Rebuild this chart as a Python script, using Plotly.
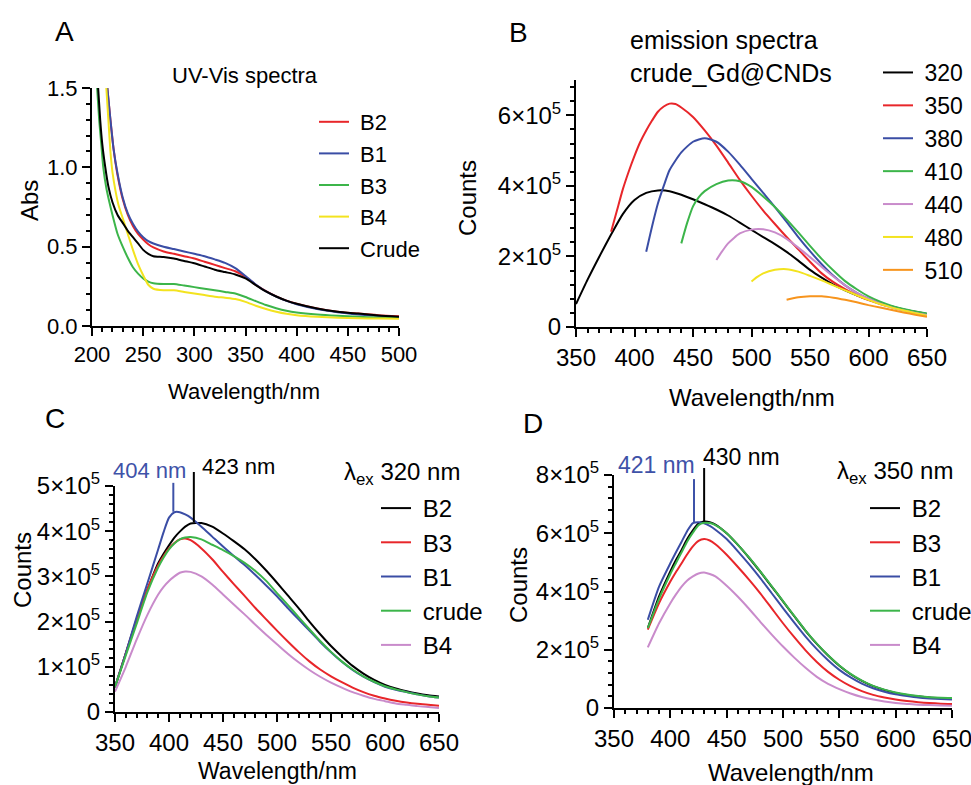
import plotly.graph_objects as go

# ---------------- DATA ----------------
# Panel A: UV-Vis absorbance
a_b2_x = [215, 218, 221, 225, 230, 235, 240, 245, 250, 255, 260, 270, 280, 290, 300, 310, 320, 330, 340, 350, 360, 370, 380, 390, 400, 420, 440, 460, 480, 500]
a_b2_y = [1.5, 1.3, 1.12, 0.95, 0.8, 0.7, 0.63, 0.58, 0.545, 0.515, 0.495, 0.47, 0.455, 0.44, 0.425, 0.405, 0.385, 0.365, 0.345, 0.31, 0.26, 0.22, 0.187, 0.16, 0.14, 0.11, 0.09, 0.078, 0.068, 0.062]
a_b1_x = [215, 218, 221, 225, 230, 235, 240, 245, 250, 255, 260, 270, 280, 290, 300, 310, 320, 330, 340, 350, 360, 370, 380, 390, 400, 420, 440, 460, 480, 500]
a_b1_y = [1.5, 1.3, 1.12, 0.96, 0.81, 0.71, 0.645, 0.595, 0.56, 0.535, 0.52, 0.5, 0.485, 0.47, 0.455, 0.44, 0.42, 0.398, 0.365, 0.315, 0.262, 0.218, 0.185, 0.158, 0.137, 0.107, 0.087, 0.073, 0.063, 0.055]
a_b3_x = [205, 207, 209, 211, 214, 217, 220, 225, 230, 235, 240, 245, 250, 255, 260, 270, 280, 290, 300, 310, 320, 330, 340, 350, 360, 370, 380, 390, 400, 420, 440, 460, 480, 500]
a_b3_y = [1.5, 1.3, 1.15, 1.0, 0.87, 0.78, 0.7, 0.58, 0.5, 0.43, 0.37, 0.33, 0.3, 0.28, 0.27, 0.265, 0.265, 0.255, 0.245, 0.235, 0.225, 0.215, 0.205, 0.183, 0.157, 0.132, 0.112, 0.096, 0.085, 0.072, 0.064, 0.058, 0.054, 0.05]
a_b4_x = [214, 216, 218, 220, 223, 226, 230, 235, 240, 245, 250, 255, 260, 270, 280, 290, 300, 310, 320, 330, 340, 350, 360, 370, 380, 390, 400, 420, 440, 460, 480, 500]
a_b4_y = [1.5, 1.3, 1.1, 0.97, 0.85, 0.76, 0.68, 0.58, 0.48, 0.39, 0.32, 0.26, 0.235, 0.225, 0.225, 0.215, 0.205, 0.195, 0.185, 0.178, 0.17, 0.152, 0.128, 0.107, 0.09, 0.077, 0.068, 0.058, 0.052, 0.049, 0.047, 0.045]
a_crude_x = [206, 208, 210, 213, 216, 220, 225, 230, 235, 240, 245, 250, 255, 260, 270, 280, 290, 300, 310, 320, 330, 340, 350, 360, 370, 380, 390, 400, 420, 440, 460, 480, 500]
a_crude_y = [1.5, 1.3, 1.15, 1.0, 0.88, 0.78, 0.7, 0.65, 0.6, 0.56, 0.52, 0.48, 0.455, 0.44, 0.435, 0.425, 0.41, 0.395, 0.375, 0.355, 0.34, 0.325, 0.3, 0.258, 0.218, 0.186, 0.16, 0.14, 0.11, 0.09, 0.078, 0.066, 0.058]
a_names = ["B2", "B1", "B3", "B4", "Crude"]

# Panel B: emission spectra of crude (values in units of 1e5 counts)
b_320_x = [350, 360, 370, 380, 390, 400, 410, 420, 430, 440, 450, 460, 470, 480, 490, 500, 510, 520, 530, 540, 550, 560, 570, 580, 590, 600, 610, 620, 630, 640, 650]
b_320_y = [0.65, 1.35, 2.0, 2.62, 3.2, 3.6, 3.8, 3.87, 3.85, 3.75, 3.62, 3.48, 3.33, 3.16, 2.96, 2.75, 2.55, 2.35, 2.13, 1.88, 1.62, 1.4, 1.2, 1.04, 0.9, 0.78, 0.67, 0.58, 0.5, 0.43, 0.37]
b_350_x = [380, 385, 390, 395, 400, 405, 410, 415, 420, 425, 430, 435, 440, 450, 460, 470, 480, 490, 500, 510, 520, 530, 540, 550, 560, 570, 580, 590, 600, 610, 620, 630, 640, 650]
b_350_y = [2.7, 3.3, 3.9, 4.4, 4.85, 5.25, 5.57, 5.85, 6.1, 6.25, 6.33, 6.32, 6.22, 5.95, 5.57, 5.14, 4.66, 4.17, 3.72, 3.3, 2.92, 2.55, 2.2, 1.85, 1.52, 1.27, 1.07, 0.9, 0.76, 0.65, 0.56, 0.48, 0.41, 0.35]
b_380_x = [410, 415, 420, 425, 430, 440, 450, 460, 470, 480, 490, 500, 510, 520, 530, 540, 550, 560, 570, 580, 590, 600, 610, 620, 630, 640, 650]
b_380_y = [2.13, 2.85, 3.5, 4.0, 4.45, 4.95, 5.25, 5.35, 5.25, 4.97, 4.6, 4.2, 3.8, 3.4, 2.98, 2.55, 2.15, 1.78, 1.45, 1.18, 0.97, 0.8, 0.67, 0.57, 0.49, 0.42, 0.36]
b_410_x = [440, 445, 450, 455, 460, 470, 480, 490, 500, 510, 520, 530, 540, 550, 560, 570, 580, 590, 600, 610, 620, 630, 640, 650]
b_410_y = [2.37, 2.95, 3.42, 3.68, 3.85, 4.05, 4.15, 4.13, 3.97, 3.7, 3.4, 3.05, 2.68, 2.3, 1.93, 1.6, 1.3, 1.07, 0.87, 0.72, 0.6, 0.51, 0.44, 0.38]
b_440_x = [470, 475, 480, 490, 500, 510, 520, 530, 540, 550, 560, 570, 580, 590, 600, 610, 620, 630, 640, 650]
b_440_y = [1.9, 2.15, 2.37, 2.65, 2.76, 2.77, 2.68, 2.5, 2.25, 1.98, 1.7, 1.43, 1.18, 0.97, 0.8, 0.66, 0.55, 0.47, 0.4, 0.34]
b_480_x = [500, 505, 510, 520, 530, 540, 550, 560, 570, 580, 590, 600, 610, 620, 630, 640, 650]
b_480_y = [1.29, 1.42, 1.52, 1.62, 1.64, 1.57, 1.45, 1.32, 1.18, 1.04, 0.9, 0.77, 0.65, 0.55, 0.47, 0.39, 0.32]
b_510_x = [530, 540, 550, 560, 570, 580, 590, 600, 610, 620, 630, 640, 650]
b_510_y = [0.77, 0.84, 0.87, 0.87, 0.83, 0.77, 0.7, 0.62, 0.55, 0.48, 0.41, 0.35, 0.29]
b_names = ["320", "350", "380", "410", "440", "480", "510"]

# Panel C: lambda_ex 320 nm (units of 1e5 counts)
c_x = [350, 360, 370, 380, 390, 395, 400, 405, 410, 415, 420, 430, 440, 450, 460, 470, 480, 490, 500, 510, 520, 530, 540, 550, 560, 570, 580, 590, 600, 610, 620, 630, 640, 650]
c_b2 = [0.55, 1.3, 2.03, 2.7, 3.29, 3.5, 3.69, 3.86, 3.99, 4.1, 4.17, 4.18, 4.1, 3.95, 3.78, 3.6, 3.38, 3.13, 2.86, 2.58, 2.3, 2.0, 1.72, 1.46, 1.23, 1.02, 0.85, 0.71, 0.6, 0.52, 0.46, 0.41, 0.37, 0.34]
c_b3 = [0.55, 1.3, 2.05, 2.72, 3.25, 3.45, 3.62, 3.74, 3.82, 3.84, 3.8, 3.62, 3.38, 3.1, 2.83, 2.57, 2.3, 2.05, 1.8, 1.56, 1.33, 1.12, 0.94, 0.79, 0.66, 0.54, 0.44, 0.36, 0.3, 0.25, 0.21, 0.18, 0.16, 0.14]
c_b1 = [0.55, 1.3, 2.1, 2.85, 3.6, 3.98, 4.3, 4.42, 4.42, 4.37, 4.3, 4.1, 3.88, 3.66, 3.45, 3.25, 3.03, 2.8, 2.56, 2.3, 2.05, 1.8, 1.55, 1.32, 1.11, 0.93, 0.78, 0.66, 0.56, 0.49, 0.44, 0.39, 0.35, 0.32]
c_crude = [0.55, 1.25, 1.95, 2.65, 3.2, 3.42, 3.6, 3.73, 3.82, 3.86, 3.87, 3.82, 3.7, 3.58, 3.45, 3.3, 3.12, 2.9, 2.63, 2.37, 2.1, 1.83, 1.57, 1.33, 1.12, 0.94, 0.79, 0.67, 0.57, 0.5, 0.44, 0.39, 0.35, 0.32]
c_b4 = [0.45, 1.0, 1.6, 2.15, 2.6, 2.77, 2.9, 3.0, 3.08, 3.11, 3.1, 3.0, 2.82, 2.6, 2.38, 2.16, 1.93, 1.71, 1.5, 1.29, 1.1, 0.93, 0.78, 0.65, 0.54, 0.44, 0.36, 0.29, 0.24, 0.19, 0.16, 0.13, 0.11, 0.09]
c_peak_nm = [404, 423]
c_peak_base = [4.43, 4.2]
c_peak_top = [5.07, 5.31]
c_peak_labels = ["404 nm", "423 nm"]

# Panel D: lambda_ex 350 nm (units of 1e5 counts)
d_x = [380, 390, 400, 405, 410, 415, 420, 425, 430, 435, 440, 450, 460, 470, 480, 490, 500, 510, 520, 530, 540, 550, 560, 570, 580, 590, 600, 610, 620, 630, 640, 650]
d_b2 = [2.74, 3.83, 4.69, 5.08, 5.43, 5.8, 6.1, 6.33, 6.4, 6.38, 6.3, 6.0, 5.6, 5.15, 4.67, 4.17, 3.66, 3.15, 2.65, 2.2, 1.8, 1.45, 1.16, 0.93, 0.75, 0.62, 0.52, 0.45, 0.4, 0.36, 0.34, 0.33]
d_b3 = [2.69, 3.6, 4.34, 4.67, 4.97, 5.28, 5.55, 5.74, 5.8, 5.75, 5.62, 5.26, 4.84, 4.4, 3.93, 3.42, 2.91, 2.43, 1.98, 1.58, 1.24, 0.97, 0.75, 0.58, 0.45, 0.36, 0.29, 0.24, 0.2, 0.17, 0.15, 0.14]
d_b1 = [3.03, 4.17, 4.97, 5.35, 5.71, 6.08, 6.35, 6.38, 6.34, 6.25, 6.12, 5.8, 5.38, 4.93, 4.45, 3.94, 3.43, 2.93, 2.45, 2.02, 1.64, 1.31, 1.05, 0.84, 0.68, 0.56, 0.47, 0.41, 0.36, 0.33, 0.31, 0.29]
d_crude = [2.74, 3.75, 4.6, 4.98, 5.35, 5.72, 6.02, 6.28, 6.36, 6.35, 6.28, 6.0, 5.6, 5.16, 4.68, 4.18, 3.67, 3.16, 2.66, 2.21, 1.81, 1.46, 1.17, 0.94, 0.76, 0.63, 0.53, 0.46, 0.41, 0.37, 0.35, 0.34]
d_b4 = [2.08, 2.91, 3.6, 3.9, 4.17, 4.38, 4.52, 4.62, 4.65, 4.6, 4.52, 4.2, 3.82, 3.4, 2.95, 2.52, 2.11, 1.73, 1.38, 1.07, 0.83, 0.65, 0.5, 0.38, 0.29, 0.22, 0.17, 0.14, 0.11, 0.1, 0.09, 0.08]
d_peak_nm = [421, 430]
d_peak_base = [6.37, 6.4]
d_peak_top = [7.86, 8.24]
d_peak_labels = ["421 nm", "430 nm"]

cd_names = ["B2", "B3", "B1", "crude", "B4"]

# tick labels
a_yticks = [0, 0.5, 1.0, 1.5]
a_yticktext = ["0.0", "0.5", "1.0", "1.5"]
b_yticks = [0, 2, 4, 6]
b_yticktext = ["0", "2×10<sup>5</sup>", "4×10<sup>5</sup>", "6×10<sup>5</sup>"]
c_yticks = [0, 1, 2, 3, 4, 5]
c_yticktext = ["0", "1×10<sup>5</sup>", "2×10<sup>5</sup>", "3×10<sup>5</sup>", "4×10<sup>5</sup>", "5×10<sup>5</sup>"]
d_yticks = [0, 2, 4, 6, 8]
d_yticktext = ["0", "2×10<sup>5</sup>", "4×10<sup>5</sup>", "6×10<sup>5</sup>", "8×10<sup>5</sup>"]
SCALE = 1e5

# ---------------- STYLE ----------------
W, H = 971, 785
FONT = "Liberation Sans, Arial, sans-serif"
RED, BLUE, GREEN, YELLOW, VIOLET, ORANGE, BLACK = "#E8262A", "#3A4DA5", "#3CB54A", "#F3E31F", "#C98BCB", "#F7941D", "#000000"
PEAKBLUE = "#3E52A8"


def px(x):
    return x / W


def py(y):
    return 1 - y / H


def sc(vals):
    return [v * SCALE for v in vals]


fig = go.Figure()

line_kw = dict(shape="spline", smoothing=0.6, width=2)

# Panel A
a_series = [(a_b2_x, a_b2_y, RED), (a_b1_x, a_b1_y, BLUE), (a_b3_x, a_b3_y, GREEN),
            (a_b4_x, a_b4_y, YELLOW), (a_crude_x, a_crude_y, BLACK)]
for name, (xs, ys, col) in zip(a_names, a_series):
    fig.add_trace(go.Scatter(x=xs, y=ys, mode="lines", name="\u00a0" + name,
                             line=dict(color=col, **line_kw), xaxis="x", yaxis="y", legend="legend"))

# Panel B
b_series = [(b_320_x, b_320_y, BLACK), (b_350_x, b_350_y, RED), (b_380_x, b_380_y, BLUE),
            (b_410_x, b_410_y, GREEN), (b_440_x, b_440_y, VIOLET), (b_480_x, b_480_y, YELLOW),
            (b_510_x, b_510_y, ORANGE)]
for name, (xs, ys, col) in zip(b_names, b_series):
    fig.add_trace(go.Scatter(x=xs, y=sc(ys), mode="lines", name="\u00a0" + name,
                             line=dict(color=col, **line_kw), xaxis="x2", yaxis="y2", legend="legend2"))

# Panel C
for name, ys, col in zip(cd_names, [c_b2, c_b3, c_b1, c_crude, c_b4], [BLACK, RED, BLUE, GREEN, VIOLET]):
    fig.add_trace(go.Scatter(x=c_x, y=sc(ys), mode="lines", name="\u00a0" + name,
                             line=dict(color=col, **line_kw), xaxis="x3", yaxis="y3", legend="legend3"))

# Panel D
for name, ys, col in zip(cd_names, [d_b2, d_b3, d_b1, d_crude, d_b4], [BLACK, RED, BLUE, GREEN, VIOLET]):
    fig.add_trace(go.Scatter(x=d_x, y=sc(ys), mode="lines", name="\u00a0" + name,
                             line=dict(color=col, **line_kw), xaxis="x4", yaxis="y4", legend="legend4"))

# Peak marker lines (drawn on invisible taller overlay subplots sharing the same scale)
for xs, base, top, col_list, xa, ya in [
        (c_peak_nm, c_peak_base, c_peak_top, [PEAKBLUE, BLACK], "x5", "y5"),
        (d_peak_nm, d_peak_base, d_peak_top, [PEAKBLUE, BLACK], "x6", "y6")]:
    for xv, b0, t0, col in zip(xs, base, top, col_list):
        fig.add_trace(go.Scatter(x=[xv, xv], y=[b0 * SCALE, t0 * SCALE], mode="lines",
                                 line=dict(color=col, width=2), showlegend=False,
                                 xaxis=xa, yaxis=ya, hoverinfo="skip"))

# ---------------- AXES ----------------
def xax(domain, rng, fs, anchor):
    return dict(domain=domain, range=rng, anchor=anchor, showline=True, linecolor="black", linewidth=2,
                ticks="outside", ticklen=8, tickwidth=2, tickcolor="black", tickmode="linear",
                tick0=rng[0], dtick=50, showgrid=False, zeroline=False, ticklabeloverflow="allow",
                tickfont=dict(size=fs, color="black", family=FONT),
                minor=dict(ticks="outside", ticklen=4, tickwidth=1.5, tickcolor="black", dtick=10, tick0=rng[0]))


def yax(domain, rng, fs, anchor, tv, tt, mdt):
    return dict(domain=domain, range=rng, anchor=anchor, showline=True, linecolor="black", linewidth=2,
                ticks="outside", ticklen=8, tickwidth=2, tickcolor="black", tickmode="array",
                tickvals=tv, ticktext=tt, showgrid=False, zeroline=False, ticklabeloverflow="allow",
                tickfont=dict(size=fs, color="black", family=FONT),
                minor=dict(ticks="outside", ticklen=4, tickwidth=1.5, tickcolor="black", dtick=mdt, tick0=0))


# pixel boxes: (left, right, top, bottom)
A_box = (92, 399, 88, 326)
B_box = (576, 927, 80, 327)
C_box = (115, 439, 486, 712)
D_box = (614, 952, 475, 708)
C_ext_top = 450
D_ext_top = 440


def xd(b):
    return [px(b[0]), px(b[1])]


def yd(b):
    return [py(b[3]), py(b[2])]


c_ymax = c_yticks[-1] * SCALE
d_ymax = d_yticks[-1] * SCALE
c_ext = c_ymax * (C_box[3] - C_ext_top) / (C_box[3] - C_box[2])
d_ext = d_ymax * (D_box[3] - D_ext_top) / (D_box[3] - D_box[2])

fig.update_layout(
    width=W, height=H,
    margin=dict(l=0, r=0, t=0, b=0, autoexpand=False),
    paper_bgcolor="white", plot_bgcolor="rgba(0,0,0,0)",
    font=dict(family=FONT, color="black"),
    xaxis=xax(xd(A_box), [200, 500], 22, "y"),
    yaxis=yax(yd(A_box), [0, 1.5], 22, "x", a_yticks, a_yticktext, 0.1),
    xaxis2=xax(xd(B_box), [350, 650], 24, "y2"),
    yaxis2=yax(yd(B_box), [0, 7 * SCALE], 24, "x2", sc(b_yticks), b_yticktext, 0.4 * SCALE),
    xaxis3=xax(xd(C_box), [350, 650], 24, "y3"),
    yaxis3=yax(yd(C_box), [0, c_ymax], 24, "x3", sc(c_yticks), c_yticktext, 0.2 * SCALE),
    xaxis4=xax(xd(D_box), [350, 650], 24, "y4"),
    yaxis4=yax(yd(D_box), [0, d_ymax], 24, "x4", sc(d_yticks), d_yticktext, 0.4 * SCALE),
    xaxis5=dict(domain=xd(C_box), range=[350, 650], anchor="y5", visible=False),
    yaxis5=dict(domain=[py(C_box[3]), py(C_ext_top)], range=[0, c_ext], anchor="x5", visible=False),
    xaxis6=dict(domain=xd(D_box), range=[350, 650], anchor="y6", visible=False),
    yaxis6=dict(domain=[py(D_box[3]), py(D_ext_top)], range=[0, d_ext], anchor="x6", visible=False),
    legend=dict(x=px(314), y=py(101), xanchor="left", yanchor="top", bgcolor="rgba(0,0,0,0)",
                font=dict(size=22, family=FONT, color="black"), borderwidth=0),
    legend2=dict(x=px(878), y=py(51), xanchor="left", yanchor="top", bgcolor="rgba(0,0,0,0)",
                 font=dict(size=23, family=FONT, color="black"), borderwidth=0),
    legend3=dict(x=px(376), y=py(486), xanchor="left", yanchor="top", bgcolor="rgba(0,0,0,0)",
                 font=dict(size=24, family=FONT, color="black"), borderwidth=0),
    legend4=dict(x=px(865), y=py(486), xanchor="left", yanchor="top", bgcolor="rgba(0,0,0,0)",
                 font=dict(size=24, family=FONT, color="black"), borderwidth=0),
    showlegend=True,
)

ann = []


def text(x, y, t, size, xanchor="center", yanchor="middle", color="black", angle=0, align="left"):
    ann.append(dict(x=px(x), y=py(y), xref="paper", yref="paper", text=t, showarrow=False,
                    xanchor=xanchor, yanchor=yanchor, textangle=angle, align=align,
                    font=dict(size=size, color=color, family=FONT)))


# panel letters
text(53, 32, "A", 28, xanchor="left")
text(507, 33, "B", 28, xanchor="left")
text(43, 418, "C", 28, xanchor="left")
text(521, 423, "D", 28, xanchor="left")
# titles
text(245, 76, "UV-Vis spectra", 22)
text(628, 57, "emission spectra<br>crude_Gd@CNDs", 25, xanchor="left")
text(342, 473, "λ<sub>ex</sub> 320 nm", 24, xanchor="left")
text(835, 472, "λ<sub>ex</sub> 350 nm", 24, xanchor="left")
# axis titles
text(30, 201, "Abs", 24, angle=-90)
text(468, 198, "Counts", 24, angle=-90)
text(22, 570, "Counts", 24, angle=-90)
text(518, 585, "Counts", 24, angle=-90)
text(244, 391, "Wavelength/nm", 22)
text(752, 397, "Wavelength/nm", 24)
text(277, 771, "Wavelength/nm", 23)
text(791, 772, "Wavelength/nm", 24)
# peak labels
text(188, 470, c_peak_labels[0], 22, xanchor="right", color=PEAKBLUE)
text(200, 466, c_peak_labels[1], 22, xanchor="left")
text(697, 465, d_peak_labels[0], 23, xanchor="right", color=PEAKBLUE)
text(701, 457, d_peak_labels[1], 23, xanchor="left")

fig.update_layout(annotations=ann)

fig.write_html("out.html", config={"displayModeBar": False},
               post_script="document.body.style.margin='0';document.documentElement.style.overflow='hidden';document.body.style.overflow='hidden';")
